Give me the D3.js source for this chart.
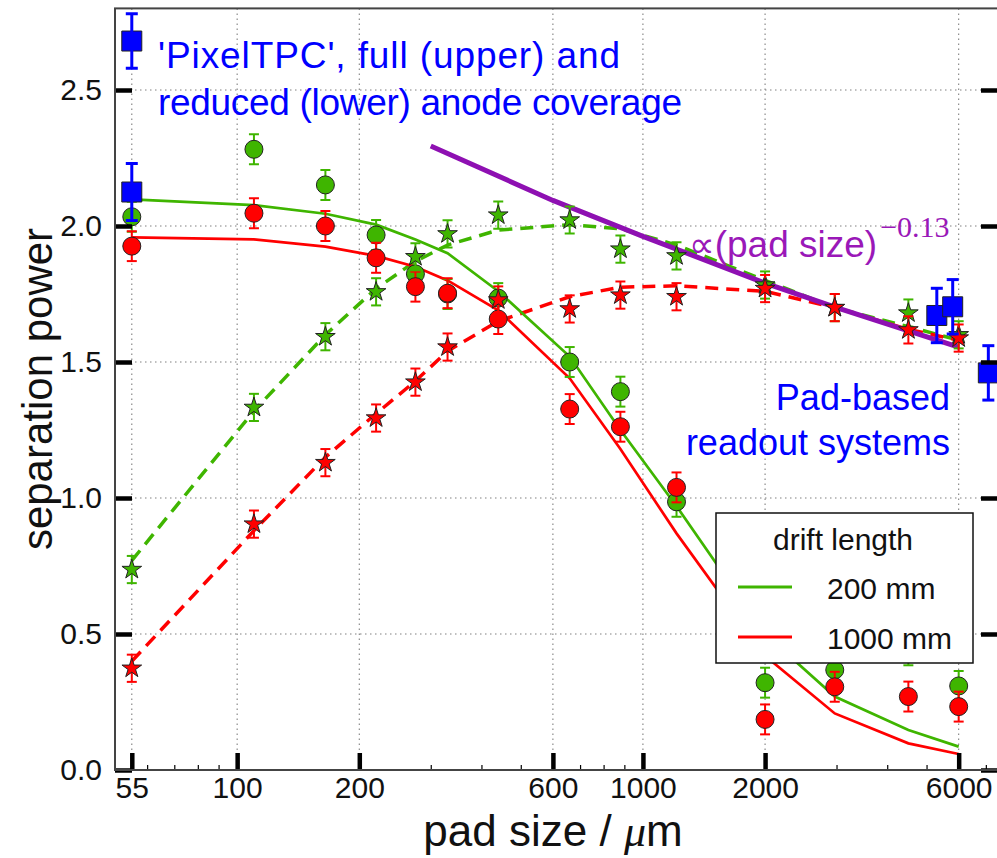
<!DOCTYPE html>
<html><head><meta charset="utf-8">
<script src="https://cdn.jsdelivr.net/npm/d3@7"></script>
<style>body{margin:0;background:#fff} svg{display:block}</style>
</head><body><svg id="c" width="997" height="858"></svg>
<script>
// ---------------- data ----------------
const padSizes = [55,110,165,220,275,330,440,660,880,1210,2000,2970,4510,6000];
const circles200 = [2.034,2.282,2.151,1.967,1.824,1.75,1.735,1.50,1.391,0.986,0.321,0.368,0.44,0.309];
const circles200Err = [0.055,0.055,0.055,0.055,0.055,0.055,0.055,0.055,0.055,0.055,0.055,0.055,0.055,0.055];
const circles1000 = [1.926,2.047,2.0,1.883,1.777,1.753,1.658,1.327,1.262,1.039,0.186,0.306,0.27,0.233];
const circles1000Err = [0.055,0.055,0.055,0.055,0.055,0.055,0.055,0.055,0.055,0.055,0.055,0.055,0.055,0.055];
const stars200 = [0.737,1.333,1.593,1.758,1.887,1.971,2.040,2.022,1.915,1.89,1.783,1.70,1.68,1.60];
const stars200Err = [0.05,0.05,0.05,0.05,0.05,0.05,0.05,0.05,0.05,0.05,0.05,0.05,0.05,0.05];
const stars1000 = [0.374,0.904,1.13,1.294,1.426,1.555,1.728,1.695,1.746,1.74,1.77,1.70,1.618,1.588];
const stars1000Err = [0.05,0.05,0.05,0.05,0.05,0.05,0.05,0.05,0.05,0.05,0.05,0.05,0.05,0.05];
const model200Solid = [2.098,2.077,2.045,2.005,1.95,1.90,1.76,1.52,1.25,0.97,0.50,0.27,0.147,0.086];
const model1000Solid = [1.958,1.951,1.924,1.89,1.85,1.80,1.69,1.44,1.18,0.87,0.42,0.208,0.098,0.059];
const model200Dashed = [0.77,1.32,1.60,1.77,1.87,1.93,1.985,2.005,1.99,1.93,1.80,1.70,1.63,1.58];
const model1000Dashed = [0.40,0.88,1.15,1.31,1.43,1.54,1.65,1.74,1.775,1.78,1.76,1.70,1.62,1.58];
const pixelTpcX = [55,55];
const pixelTpcY = [2.68,2.125];
const pixelTpcErr = [0.1,0.105];
const padBasedX = [5300,5800,7100];
const padBasedY = [1.671,1.703,1.46];
const padBasedErr = [0.1,0.1,0.1];
const powerLawX = [300,600,1000,2000,3000,6000];
const powerLawY = [2.294,2.094,1.962,1.790,1.700,1.555];
const xMajorTicks = [55,100,200,600,1000,2000,6000];
const xMinorTicks = [60,70,80,90,300,400,500,700,800,900,3000,4000,5000,7000];
const yTicks = [0,0.5,1.0,1.5,2.0,2.5];
const legendTitle = "drift length";
const legendLabels = ["200 mm","1000 mm"];

// ---------------- setup ----------------
const W = 997, H = 858;
const m = {left:115, right:998, top:8.4, bottom:770};
const FONT = "'Liberation Sans', Arial, sans-serif";
const GREEN = "#3fb500", RED = "#ff0000", BLUE = "#0000ff", PURPLE = "#8e10b2";
const svg = d3.select('#c');
svg.append('rect').attr('width',W).attr('height',H).attr('fill','#fff');

const x = d3.scaleLog().domain([50,7500]).range([m.left,m.right]);
const y = d3.scaleLinear().domain([0,2.8]).range([m.bottom,m.top]);

svg.append('defs').append('clipPath').attr('id','clip')
  .append('rect').attr('x',m.left).attr('y',m.top)
  .attr('width',m.right-m.left).attr('height',m.bottom-m.top);

// grid
const grid = svg.append('g').attr('stroke','#808080').attr('stroke-width',1.1).attr('stroke-dasharray','1.5,3.5');
grid.selectAll('line.gx').data(xMajorTicks).join('line')
  .attr('x1',d=>x(d)).attr('x2',d=>x(d)).attr('y1',m.top).attr('y2',m.bottom);
grid.selectAll('line.gy').data(yTicks.filter(d=>d>0)).join('line').attr('class','gy')
  .attr('y1',d=>y(d)).attr('y2',d=>y(d)).attr('x1',m.left).attr('x2',m.right);

const plot = svg.append('g').attr('clip-path','url(#clip)');

const line = d3.line().x(d=>x(d[0])).y(d=>y(d[1]));
const zip = (xs,ys)=>xs.map((v,i)=>[v,ys[i]]);

// model lines
plot.append('path').attr('d',line(zip(padSizes,model200Dashed))).attr('fill','none')
  .attr('stroke',GREEN).attr('stroke-width',3.5).attr('stroke-dasharray','13,8');
plot.append('path').attr('d',line(zip(padSizes,model1000Dashed))).attr('fill','none')
  .attr('stroke',RED).attr('stroke-width',3.5).attr('stroke-dasharray','13,8');
plot.append('path').attr('d',line(zip(padSizes,model200Solid))).attr('fill','none')
  .attr('stroke',GREEN).attr('stroke-width',2.7);
plot.append('path').attr('d',line(zip(padSizes,model1000Solid))).attr('fill','none')
  .attr('stroke',RED).attr('stroke-width',2.7);
// power law
plot.append('path').attr('d',line(zip(powerLawX,powerLawY))).attr('fill','none')
  .attr('stroke',PURPLE).attr('stroke-width',5);

function errorBars(g, xs, ys, es, color, w, cap){
  const gg = g.append('g').attr('stroke',color).attr('stroke-width',w);
  xs.forEach((xv,i)=>{
    const cx = x(xv), y1 = y(ys[i]-es[i]), y2 = y(ys[i]+es[i]);
    gg.append('line').attr('x1',cx).attr('x2',cx).attr('y1',y1).attr('y2',y2);
    gg.append('line').attr('x1',cx-cap).attr('x2',cx+cap).attr('y1',y1).attr('y2',y1);
    gg.append('line').attr('x1',cx-cap).attr('x2',cx+cap).attr('y1',y2).attr('y2',y2);
  });
}
function markers(g, xs, ys, type, size, color){
  const sym = d3.symbol().type(type).size(size);
  g.append('g').selectAll('path').data(xs.map((v,i)=>[v,ys[i]])).join('path')
    .attr('d',sym).attr('transform',d=>`translate(${x(d[0])},${y(d[1])})`)
    .attr('fill',color).attr('stroke','#222').attr('stroke-width',1);
}

// circles
errorBars(plot, padSizes, circles200, circles200Err, GREEN, 2, 5);
markers(plot, padSizes, circles200, d3.symbolCircle, Math.PI*81, GREEN);
errorBars(plot, padSizes, circles1000, circles1000Err, RED, 2, 5);
markers(plot, padSizes, circles1000, d3.symbolCircle, Math.PI*81, RED);
// stars
errorBars(plot, padSizes, stars200, stars200Err, GREEN, 2, 5);
markers(plot, padSizes, stars200, d3.symbolStar, 120, GREEN);
errorBars(plot, padSizes, stars1000, stars1000Err, RED, 2, 5);
markers(plot, padSizes, stars1000, d3.symbolStar, 120, RED);
// blue squares
markers(plot, pixelTpcX, pixelTpcY, d3.symbolSquare, 400, BLUE);
errorBars(plot, pixelTpcX, pixelTpcY, pixelTpcErr, BLUE, 3, 6);
markers(plot, padBasedX, padBasedY, d3.symbolSquare, 400, BLUE);
errorBars(plot, padBasedX, padBasedY, padBasedErr, BLUE, 3, 6);

// annotations
const t1 = svg.append('text').attr('font-family',FONT).attr('font-size',37).attr('fill',BLUE);
t1.append('tspan').attr('x',158).attr('y',68).attr('textLength',462).attr('lengthAdjust','spacing').text("'PixelTPC', full (upper) and");
t1.append('tspan').attr('x',158).attr('y',115).attr('textLength',524).attr('lengthAdjust','spacing').text("reduced (lower) anode coverage");
const t2 = svg.append('text').attr('font-family',FONT).attr('font-size',36).attr('fill',BLUE).attr('text-anchor','end');
t2.append('tspan').attr('x',950).attr('y',410).text("Pad-based");
t2.append('tspan').attr('x',950).attr('y',455).text("readout systems");
const t3 = svg.append('text').attr('font-family',FONT).attr('font-size',37).attr('fill','#9a18b8').attr('x',689).attr('y',257);
t3.append('tspan').attr('font-family',"'DejaVu Sans', sans-serif").attr('font-size',36).text("∝");
t3.append('tspan').text("(pad size)");
t3.append('tspan').attr('font-family',"'Liberation Serif', serif").attr('font-size',30).attr('dx',3).attr('dy',-20).text("−0.13");

// legend
const lg = svg.append('g');
lg.append('rect').attr('x',716).attr('y',513).attr('width',257).attr('height',150)
  .attr('fill','#fff').attr('stroke','#111').attr('stroke-width',1.5);
lg.append('text').attr('x',843).attr('y',550).attr('text-anchor','middle')
  .attr('font-family',FONT).attr('font-size',30).attr('fill','#111').text(legendTitle);
[GREEN,RED].forEach((c,i)=>{
  const yy = 587 + i*50;
  lg.append('line').attr('x1',738).attr('x2',792).attr('y1',yy).attr('y2',yy).attr('stroke',c).attr('stroke-width',3);
  lg.append('text').attr('x',827).attr('y',yy+12).attr('font-family',FONT).attr('font-size',30)
    .attr('fill','#111').text(legendLabels[i]);
});

// axes
const axB = svg.append('g').attr('transform',`translate(0,${m.bottom})`)
  .call(d3.axisBottom(x).tickValues(xMajorTicks).tickFormat(d=>String(d)).tickSizeInner(-17).tickSizeOuter(0).tickPadding(7));
const axBm = svg.append('g').attr('transform',`translate(0,${m.bottom})`)
  .call(d3.axisBottom(x).tickValues(xMinorTicks).tickFormat('').tickSizeInner(-5).tickSizeOuter(0));
const axL = svg.append('g').attr('transform',`translate(${m.left},0)`)
  .call(d3.axisLeft(y).tickValues(yTicks).tickFormat(d3.format('.1f')).tickSizeInner(-17).tickSizeOuter(0).tickPadding(13));
const axR = svg.append('g').attr('transform',`translate(${m.right},0)`)
  .call(d3.axisRight(y).tickValues(yTicks).tickFormat('').tickSizeInner(-17).tickSizeOuter(0));
[axB,axBm,axL,axR].forEach(a=>{ a.select('.domain').remove(); });
[axB,axL,axR].forEach(a=>a.selectAll('.tick line').attr('stroke','#000').attr('stroke-width',4.5));
axBm.selectAll('.tick line').attr('stroke','#000').attr('stroke-width',1.2);
[axB,axL].forEach(a=>a.selectAll('.tick text').attr('font-family',FONT).attr('font-size',30).attr('fill','#111'));

// spines
svg.append('rect').attr('x',m.left).attr('y',m.top).attr('width',m.right-m.left).attr('height',m.bottom-m.top)
  .attr('fill','none').attr('stroke','#444').attr('stroke-width',2);

// axis labels
svg.append('text').attr('transform',`translate(52,389) rotate(-90)`).attr('text-anchor','middle')
  .attr('font-family',FONT).attr('font-size',42).attr('fill','#111').text('separation power');
const xl = svg.append('text').attr('x',553).attr('y',846).attr('text-anchor','middle')
  .attr('font-family',FONT).attr('font-size',44).attr('fill','#111');
xl.append('tspan').text('pad size / ');
xl.append('tspan').attr('font-family',"'Liberation Serif', serif").attr('font-style','italic').text('μ');
xl.append('tspan').text('m');
</script></body></html>
